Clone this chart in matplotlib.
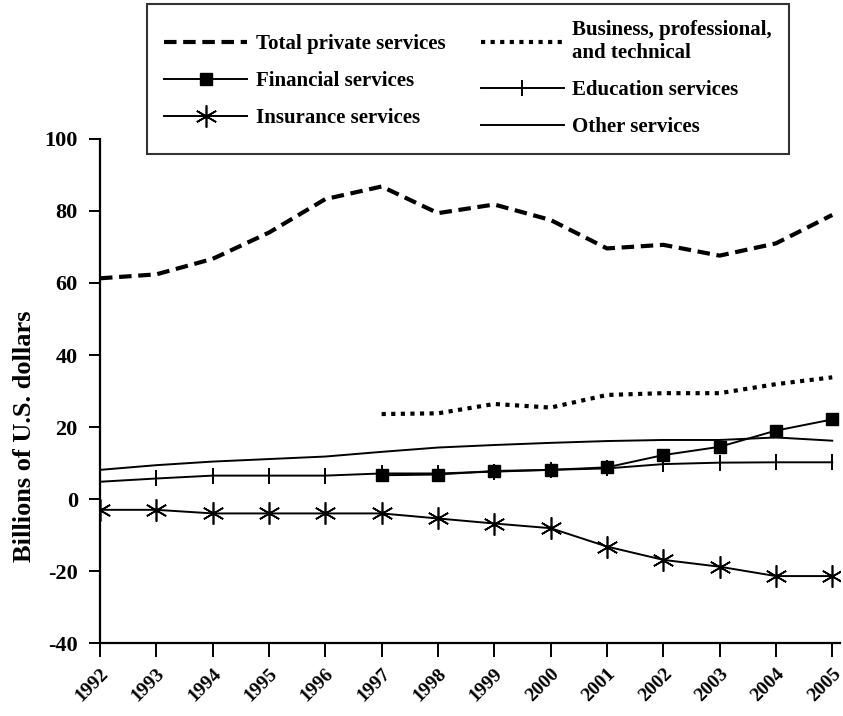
import matplotlib.pyplot as plt
import numpy as np
from matplotlib.lines import Line2D

years = np.arange(1992, 2006)
years_late = np.arange(1997, 2006)

total_private = [61.3, 62.4, 66.7, 74.0, 83.3, 86.8, 79.4, 81.8, 77.5, 69.6, 70.6, 67.6, 71.0, 78.9]
business = [23.6, 23.8, 26.4, 25.4, 28.9, 29.4, 29.4, 31.9, 33.8]
financial = [6.6, 6.8, 7.8, 8.1, 8.8, 12.2, 14.5, 19.0, 22.1]
education = [4.8, 5.7, 6.5, 6.5, 6.5, 7.1, 7.1, 7.6, 8.1, 8.5, 9.7, 10.1, 10.2, 10.2]
other = [8.1, 9.4, 10.4, 11.1, 11.8, 13.1, 14.3, 15.0, 15.6, 16.1, 16.4, 16.4, 17.1, 16.2]
insurance = [-3.0, -3.0, -4.0, -4.0, -4.0, -4.0, -5.4, -6.8, -8.1, -13.2, -16.9, -18.8, -21.4, -21.4]

yticks = [-40, -20, 0, 20, 40, 60, 80, 100]

plt.rcParams['font.family'] = ['Liberation Serif', 'DejaVu Serif']

fig = plt.figure(figsize=(8.43, 7.16), dpi=100)
ax = fig.add_axes([0.1186, 0.1019, 0.878, 0.704])

ax.plot(years, total_private, color='black', lw=3, ls=(0, (3, 1.6)))
ax.plot(years_late, business, color='black', lw=3, ls=(0, (1, 1.3)))
ax.plot(years, other, color='black', lw=1.4)
ax.plot(years, education, color='black', lw=1.4, marker='|', ms=12, mew=1.4)
ax.plot(years_late, financial, color='black', lw=1.4, marker='s', ms=8)
ax.plot(years, insurance, color='black', lw=1.4, marker=(6, 2, 0), ms=16, mew=1.2)

ax.set_xlim(1992, 2005.14)
ax.set_ylim(-40, 100)
ax.set_yticks(yticks)
ax.set_xticks(years)
ax.set_xticklabels([str(y) for y in years], rotation=45, ha='right',
                   rotation_mode='anchor', fontsize=14, fontweight='bold')
ax.set_yticklabels([str(v) for v in yticks], fontsize=16, fontweight='bold')
ax.tick_params(axis='y', length=8, width=1.4, direction='out', pad=8)
ax.tick_params(axis='x', length=10, width=1.4, direction='out', pad=6)
for side in ['top', 'right']:
    ax.spines[side].set_visible(False)
for side in ['left', 'bottom']:
    ax.spines[side].set_linewidth(1.6)
ax.set_ylabel('Billions of U.S. dollars', fontsize=19, fontweight='bold')
ax.yaxis.set_label_coords(-0.087, 0.41)

handles = [
    Line2D([], [], color='black', lw=3, ls=(0, (3, 1.6))),
    Line2D([], [], color='black', lw=1.4, marker='s', ms=8),
    Line2D([], [], color='black', lw=1.4, marker=(6, 2, 0), ms=16, mew=1.2),
    Line2D([], [], color='black', lw=3, ls=(0, (1, 1.3))),
    Line2D([], [], color='black', lw=1.4, marker='|', ms=12, mew=1.4),
    Line2D([], [], color='black', lw=1.4),
]
labels = ['Total private services', 'Financial services', 'Insurance services',
          'Business, professional,\nand technical', 'Education services',
          'Other services']
leg = fig.legend(handles, labels, ncol=2, loc='upper center',
                 bbox_to_anchor=(0.555, 0.995), borderaxespad=0,
                 fancybox=False, frameon=True,
                 edgecolor='black', handlelength=4.0, handletextpad=0.4,
                 columnspacing=1.7, labelspacing=0.82, borderpad=0.8,
                 prop={'weight': 'bold', 'size': 15})
leg.get_frame().set_linewidth(1.5)

fig.savefig('out.png', dpi=100)
